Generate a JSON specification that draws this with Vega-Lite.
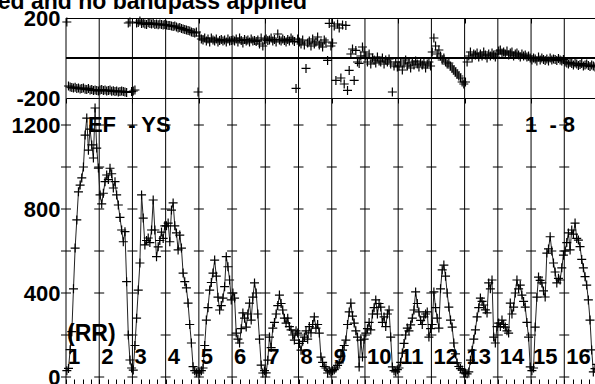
{
 "$schema": "https://vega.github.io/schema/vega-lite/v6.json",
 "width": 529, "height": 366,
 "autosize": {"type": "none"},
 "padding": {"left": 66, "top": 18, "right": 0, "bottom": 0},
 "background": "white",
 "view": {"stroke": null},
 "config": {"axis": {"labelFont": "Liberation Sans", "labelFontWeight": "bold", "labelFontSize": 22, "labelColor": "black", "domainColor": "black", "tickColor": "black", "grid": false}},
 "datasets": {
  "bnd": [{"b":0,"n":"1"},{"b":20,"n":"2"},{"b":40,"n":"3"},{"b":60,"n":"4"},{"b":80,"n":"5"},{"b":100,"n":"6"},{"b":120,"n":"7"},{"b":140,"n":"8"},{"b":160,"n":"9"},{"b":180,"n":"10"},{"b":200,"n":"11"},{"b":220,"n":"12"},{"b":240,"n":"13"},{"b":260,"n":"14"},{"b":280,"n":"15"},{"b":300,"n":"16"}],
  "grid": [
   {"lv":0,"bs":[0,20,40,60,80,100,120,140,160,180,200,220,240,260,280,300]},
   {"lv":200,"bs":[0,20,40,60,80,100,120,140,160,180,200,220,240,260,280,300]},
   {"lv":400,"bs":[0,20,40,60,80,100,120,140,160,180,200,220,240,260,280,300]},
   {"lv":600,"bs":[0,20,40,60,80,100,120,140,160,180,200,220,240,260,280,300]},
   {"lv":800,"bs":[0,20,40,60,80,100,120,140,160,180,200,220,240,260,280,300]},
   {"lv":1000,"bs":[0,20,40,60,80,100,120,140,160,180,200,220,240,260,280,300]},
   {"lv":1200,"bs":[0,20,40,60,80,100,120,140,160,180,200,220,240,260,280,300]}
  ],
  "d": [
{"x":0.5,"a":30,"p":180},{"x":1.5,"a":41,"p":-140},{"x":2.5,"a":130,"p":-145},{"x":3.5,"a":216,"p":-148},{"x":4.5,"a":420,"p":-150},{"x":5.5,"a":614,"p":-146},{"x":6.5,"a":748,"p":-152},{"x":7.5,"a":882,"p":-150},{"x":8.5,"a":914,"p":-155},{"x":9.5,"a":948,"p":-153},{"x":10.5,"a":1000,"p":-150},{"x":11.5,"a":1152,"p":-156},{"x":12.5,"a":1233,"p":-158},{"x":13.5,"a":1080,"p":-152},{"x":14.5,"a":1180,"p":-160},{"x":15.5,"a":1105,"p":-158},{"x":16.5,"a":1043,"p":-162},{"x":17.5,"a":1281,"p":-160},{"x":18.5,"a":1090,"p":-163},{"x":19.5,"a":995,"p":-165},
{"x":20.5,"a":867,"p":-160},{"x":21.5,"a":824,"p":-158},{"x":22.5,"a":875,"p":-162},{"x":23.5,"a":930,"p":-160},{"x":24.5,"a":962,"p":-165},{"x":25.5,"a":940,"p":-163},{"x":26.5,"a":994,"p":-160},{"x":27.5,"a":968,"p":-166},{"x":28.5,"a":900,"p":-164},{"x":29.5,"a":930,"p":-168},{"x":30.5,"a":867,"p":-165},{"x":31.5,"a":819,"p":-170},{"x":32.5,"a":760,"p":-167},{"x":33.5,"a":700,"p":-165},{"x":34.5,"a":644,"p":-168},{"x":35.5,"a":692,"p":-170},{"x":36.5,"a":454,"p":-172},{"x":37.5,"a":200,"p":175},{"x":38.5,"a":81,"p":180},{"x":39.5,"a":43,"p":-168},
{"x":40.5,"a":33,"p":-165},{"x":41.5,"a":150,"p":-160},{"x":42.5,"a":280,"p":175},{"x":43.5,"a":414,"p":178},{"x":44.5,"a":543,"p":185},{"x":45.5,"a":867,"p":172},{"x":46.5,"a":757,"p":175},{"x":47.5,"a":629,"p":170},{"x":48.5,"a":650,"p":168},{"x":49.5,"a":662,"p":176},{"x":50.5,"a":640,"p":172},{"x":51.5,"a":700,"p":170},{"x":52.5,"a":843,"p":174},{"x":53.5,"a":700,"p":168},{"x":54.5,"a":573,"p":170},{"x":55.5,"a":620,"p":166},{"x":56.5,"a":650,"p":170},{"x":57.5,"a":690,"p":168},{"x":58.5,"a":660,"p":165},{"x":59.5,"a":720,"p":167},
{"x":60.5,"a":720,"p":165},{"x":61.5,"a":733,"p":163},{"x":62.5,"a":644,"p":162},{"x":63.5,"a":795,"p":160},{"x":64.5,"a":829,"p":158},{"x":65.5,"a":720,"p":160},{"x":66.5,"a":686,"p":155},{"x":67.5,"a":605,"p":150},{"x":68.5,"a":676,"p":152},{"x":69.5,"a":614,"p":148},{"x":70.5,"a":495,"p":145},{"x":71.5,"a":454,"p":142},{"x":72.5,"a":424,"p":140},{"x":73.5,"a":352,"p":138},{"x":74.5,"a":250,"p":135},{"x":75.5,"a":162,"p":130},{"x":76.5,"a":49,"p":128},{"x":77.5,"a":30,"p":125},{"x":78.5,"a":20,"p":130},{"x":79.5,"a":25,"p":-170},
{"x":80.5,"a":19,"p":110},{"x":81.5,"a":30,"p":95},{"x":82.5,"a":43,"p":90},{"x":83.5,"a":150,"p":100},{"x":84.5,"a":271,"p":85},{"x":85.5,"a":330,"p":95},{"x":86.5,"a":414,"p":80},{"x":87.5,"a":450,"p":100},{"x":88.5,"a":495,"p":90},{"x":89.5,"a":557,"p":85},{"x":90.5,"a":480,"p":95},{"x":91.5,"a":380,"p":80},{"x":92.5,"a":319,"p":88},{"x":93.5,"a":340,"p":92},{"x":94.5,"a":376,"p":85},{"x":95.5,"a":430,"p":90},{"x":96.5,"a":573,"p":80},{"x":97.5,"a":525,"p":95},{"x":98.5,"a":462,"p":85},{"x":99.5,"a":367,"p":88},
{"x":100.5,"a":400,"p":90},{"x":101.5,"a":376,"p":85},{"x":102.5,"a":209,"p":95},{"x":103.5,"a":180,"p":80},{"x":104.5,"a":162,"p":100},{"x":105.5,"a":230,"p":88},{"x":106.5,"a":305,"p":75},{"x":107.5,"a":280,"p":92},{"x":108.5,"a":238,"p":85},{"x":109.5,"a":300,"p":90},{"x":110.5,"a":352,"p":80},{"x":111.5,"a":271,"p":95},{"x":112.5,"a":380,"p":85},{"x":113.5,"a":448,"p":88},{"x":114.5,"a":400,"p":82},{"x":115.5,"a":300,"p":90},{"x":116.5,"a":180,"p":70},{"x":117.5,"a":57,"p":100},{"x":118.5,"a":19,"p":60},{"x":119.5,"a":30,"p":90},
{"x":120.5,"a":20,"p":95},{"x":121.5,"a":80,"p":88},{"x":122.5,"a":190,"p":90},{"x":123.5,"a":140,"p":100},{"x":124.5,"a":233,"p":85},{"x":125.5,"a":260,"p":92},{"x":126.5,"a":300,"p":80},{"x":127.5,"a":340,"p":120},{"x":128.5,"a":390,"p":90},{"x":129.5,"a":350,"p":85},{"x":130.5,"a":319,"p":95},{"x":131.5,"a":280,"p":88},{"x":132.5,"a":257,"p":80},{"x":133.5,"a":280,"p":92},{"x":134.5,"a":240,"p":85},{"x":135.5,"a":224,"p":100},{"x":136.5,"a":200,"p":90},{"x":137.5,"a":176,"p":82},{"x":138.5,"a":220,"p":-152},{"x":139.5,"a":209,"p":95},
{"x":140.5,"a":160,"p":80},{"x":141.5,"a":128,"p":70},{"x":142.5,"a":170,"p":90},{"x":143.5,"a":190,"p":65},{"x":144.5,"a":220,"p":-52},{"x":145.5,"a":180,"p":75},{"x":146.5,"a":240,"p":85},{"x":147.5,"a":210,"p":60},{"x":148.5,"a":250,"p":95},{"x":149.5,"a":286,"p":70},{"x":150.5,"a":233,"p":80},{"x":151.5,"a":250,"p":105},{"x":152.5,"a":209,"p":65},{"x":153.5,"a":95,"p":75},{"x":154.5,"a":70,"p":55},{"x":155.5,"a":50,"p":90},{"x":156.5,"a":43,"p":80},{"x":157.5,"a":19,"p":-12},{"x":158.5,"a":30,"p":173},{"x":159.5,"a":24,"p":60},
{"x":160.5,"a":30,"p":75},{"x":161.5,"a":35,"p":160},{"x":162.5,"a":43,"p":-112},{"x":163.5,"a":55,"p":170},{"x":164.5,"a":67,"p":150},{"x":165.5,"a":100,"p":-100},{"x":166.5,"a":128,"p":165},{"x":167.5,"a":150,"p":-130},{"x":168.5,"a":176,"p":163},{"x":169.5,"a":250,"p":-162},{"x":170.5,"a":310,"p":-62},{"x":171.5,"a":352,"p":20},{"x":172.5,"a":290,"p":45},{"x":173.5,"a":257,"p":-112},{"x":174.5,"a":220,"p":38},{"x":175.5,"a":190,"p":-20},{"x":176.5,"a":48,"p":-27},{"x":177.5,"a":176,"p":10},{"x":178.5,"a":95,"p":55},{"x":179.5,"a":180,"p":30},
{"x":180.5,"a":209,"p":10},{"x":181.5,"a":230,"p":-20},{"x":182.5,"a":260,"p":20},{"x":183.5,"a":224,"p":-30},{"x":184.5,"a":300,"p":0},{"x":185.5,"a":330,"p":-10},{"x":186.5,"a":367,"p":-25},{"x":187.5,"a":300,"p":5},{"x":188.5,"a":350,"p":-15},{"x":189.5,"a":333,"p":-20},{"x":190.5,"a":260,"p":0},{"x":191.5,"a":286,"p":-30},{"x":192.5,"a":240,"p":-10},{"x":193.5,"a":300,"p":-20},{"x":194.5,"a":319,"p":-5},{"x":195.5,"a":190,"p":-30},{"x":196.5,"a":48,"p":-170},{"x":197.5,"a":30,"p":-40},{"x":198.5,"a":24,"p":-20},{"x":199.5,"a":35,"p":-45},
{"x":200.5,"a":43,"p":-40},{"x":201.5,"a":70,"p":-20},{"x":202.5,"a":114,"p":-60},{"x":203.5,"a":160,"p":-30},{"x":204.5,"a":200,"p":-10},{"x":205.5,"a":233,"p":-40},{"x":206.5,"a":220,"p":-25},{"x":207.5,"a":248,"p":-50},{"x":208.5,"a":280,"p":-20},{"x":209.5,"a":319,"p":-35},{"x":210.5,"a":405,"p":-15},{"x":211.5,"a":350,"p":-30},{"x":212.5,"a":310,"p":-45},{"x":213.5,"a":270,"p":-20},{"x":214.5,"a":250,"p":-35},{"x":215.5,"a":286,"p":-25},{"x":216.5,"a":300,"p":-50},{"x":217.5,"a":310,"p":-30},{"x":218.5,"a":190,"p":-20},{"x":219.5,"a":230,"p":-40},
{"x":220.5,"a":250,"p":30},{"x":221.5,"a":405,"p":100},{"x":222.5,"a":330,"p":60},{"x":223.5,"a":280,"p":20},{"x":224.5,"a":233,"p":40},{"x":225.5,"a":420,"p":10},{"x":226.5,"a":510,"p":-10},{"x":227.5,"a":533,"p":0},{"x":228.5,"a":480,"p":-20},{"x":229.5,"a":400,"p":-30},{"x":230.5,"a":333,"p":-25},{"x":231.5,"a":271,"p":-40},{"x":232.5,"a":238,"p":-50},{"x":233.5,"a":162,"p":-60},{"x":234.5,"a":110,"p":-70},{"x":235.5,"a":67,"p":-80},{"x":236.5,"a":50,"p":-90},{"x":237.5,"a":40,"p":-100},{"x":238.5,"a":33,"p":-120},{"x":239.5,"a":19,"p":-130},
{"x":240.5,"a":19,"p":-120},{"x":241.5,"a":15,"p":-20},{"x":242.5,"a":24,"p":10},{"x":243.5,"a":80,"p":30},{"x":244.5,"a":128,"p":0},{"x":245.5,"a":180,"p":20},{"x":246.5,"a":224,"p":15},{"x":247.5,"a":286,"p":25},{"x":248.5,"a":330,"p":5},{"x":249.5,"a":376,"p":20},{"x":250.5,"a":360,"p":10},{"x":251.5,"a":343,"p":30},{"x":252.5,"a":320,"p":15},{"x":253.5,"a":305,"p":0},{"x":254.5,"a":448,"p":20},{"x":255.5,"a":420,"p":10},{"x":256.5,"a":462,"p":25},{"x":257.5,"a":190,"p":15},{"x":258.5,"a":162,"p":5},{"x":259.5,"a":240,"p":20},
{"x":260.5,"a":257,"p":35},{"x":261.5,"a":240,"p":40},{"x":262.5,"a":271,"p":25},{"x":263.5,"a":250,"p":30},{"x":264.5,"a":238,"p":20},{"x":265.5,"a":220,"p":35},{"x":266.5,"a":209,"p":15},{"x":267.5,"a":352,"p":25},{"x":268.5,"a":300,"p":30},{"x":269.5,"a":333,"p":10},{"x":270.5,"a":400,"p":20},{"x":271.5,"a":462,"p":25},{"x":272.5,"a":420,"p":15},{"x":273.5,"a":438,"p":5},{"x":274.5,"a":390,"p":20},{"x":275.5,"a":360,"p":10},{"x":276.5,"a":333,"p":15},{"x":277.5,"a":260,"p":5},{"x":278.5,"a":190,"p":10},{"x":279.5,"a":48,"p":0},
{"x":280.5,"a":30,"p":-10},{"x":281.5,"a":43,"p":0},{"x":282.5,"a":238,"p":-5},{"x":283.5,"a":380,"p":-15},{"x":284.5,"a":476,"p":5},{"x":285.5,"a":460,"p":-10},{"x":286.5,"a":448,"p":0},{"x":287.5,"a":410,"p":-8},{"x":288.5,"a":381,"p":-12},{"x":289.5,"a":590,"p":-5},{"x":290.5,"a":610,"p":-15},{"x":291.5,"a":668,"p":0},{"x":292.5,"a":600,"p":-10},{"x":293.5,"a":543,"p":-5},{"x":294.5,"a":500,"p":-8},{"x":295.5,"a":448,"p":-12},{"x":296.5,"a":470,"p":-3},{"x":297.5,"a":462,"p":-10},{"x":298.5,"a":520,"p":-15},{"x":299.5,"a":580,"p":-8},
{"x":300.5,"a":600,"p":-20},{"x":301.5,"a":640,"p":-25},{"x":302.5,"a":686,"p":-30},{"x":303.5,"a":605,"p":-22},{"x":304.5,"a":700,"p":-28},{"x":305.5,"a":680,"p":-35},{"x":306.5,"a":733,"p":-25},{"x":307.5,"a":660,"p":-30},{"x":308.5,"a":652,"p":-38},{"x":309.5,"a":621,"p":-32},{"x":310.5,"a":560,"p":-28},{"x":311.5,"a":520,"p":-40},{"x":312.5,"a":478,"p":-35},{"x":313.5,"a":438,"p":-30},{"x":314.5,"a":367,"p":-38},{"x":315.5,"a":271,"p":-42},{"x":316.5,"a":129,"p":-35},{"x":317.5,"a":24,"p":-40},{"x":318.5,"a":40,"p":-45},{"x":319.5,"a":60,"p":-38}
  ]
 },
 "resolve": {"scale": {"x": "independent", "y": "independent"}},
 "layer": [
  {
   "data": {"name": "bnd"},
   "mark": {"type": "rule", "color": "black", "strokeWidth": 1},
   "encoding": {
    "x": {"field": "b", "type": "quantitative", "scale": {"domain": [0, 318.5], "nice": false, "zero": false},
          "axis": {"orient": "bottom", "values": [0,5,10,15,20,25,30,35,40,45,50,55,60,65,70,75,80,85,90,95,100,105,110,115,120,125,130,135,140,145,150,155,160,165,170,175,180,185,190,195,200,205,210,215,220,225,230,235,240,245,250,255,260,265,270,275,280,285,290,295,300,305,310,315], "tickSize": -5, "labels": false, "domain": false, "title": null}}
   }
  },
  {
   "data": {"name": "d"},
   "layer": [
    {
     "mark": {"type": "point", "shape": "M-1,0H1M0,-1V1", "size": 81, "filled": false, "color": "black", "strokeWidth": 1.2, "opacity": 1},
     "encoding": {
      "x": {"field": "x", "type": "quantitative", "scale": {"domain": [0, 318.5], "nice": false, "zero": false},
            "axis": {"orient": "top", "values": [0,5,10,15,20,25,30,35,40,45,50,55,60,65,70,75,80,85,90,95,100,105,110,115,120,125,130,135,140,145,150,155,160,165,170,175,180,185,190,195,200,205,210,215,220,225,230,235,240,245,250,255,260,265,270,275,280,285,290,295,300,305,310,315], "tickSize": -5, "labels": false, "domain": true, "title": null}},
      "y": {"field": "p", "type": "quantitative", "scale": {"domain": [-200, 200], "range": [80, 0], "nice": false, "zero": false},
            "axis": {"orient": "left", "values": [-200, 200], "labelExpr": "datum.value + ''", "ticks": false, "domain": false, "labelPadding": 6, "labelFlush": false, "labelOverlap": false, "title": null}}
     }
    },
    {
     "mark": {"type": "rule", "color": "black", "strokeWidth": 1},
     "encoding": {"y": {"datum": 0}}
    },
    {
     "data": {"values": [{}]},
     "mark": {"type": "text", "text": "Data flagged, calibrated and no bandpass applied", "font": "Liberation Sans", "fontSize": 23, "fontWeight": "bold", "align": "right", "baseline": "alphabetic", "color": "black"},
     "encoding": {"x": {"datum": 145.1}, "y": {"datum": 245}}
    }
   ]
  },
  {
   "layer": [
    {
     "data": {"name": "grid"},
     "transform": [{"flatten": ["bs"], "as": ["b"]}],
     "mark": {"type": "point", "shape": "M-1,0H1", "size": 100, "filled": false, "color": "black", "strokeWidth": 1, "opacity": 1},
     "encoding": {
      "x": {"field": "b", "type": "quantitative", "scale": {"domain": [0, 318.5], "nice": false, "zero": false},
            "axis": {"orient": "top", "offset": -80, "values": [0,5,10,15,20,25,30,35,40,45,50,55,60,65,70,75,80,85,90,95,100,105,110,115,120,125,130,135,140,145,150,155,160,165,170,175,180,185,190,195,200,205,210,215,220,225,230,235,240,245,250,255,260,265,270,275,280,285,290,295,300,305,310,315], "tickSize": -5, "labels": false, "domain": true, "title": null}},
      "y": {"field": "lv", "type": "quantitative", "scale": {"domain": [-33.3, 1328.6], "range": [366, 80], "nice": false, "zero": false},
            "axis": {"orient": "left", "values": [0, 400, 800, 1200], "labelExpr": "datum.value + ''", "ticks": false, "domain": false, "labelPadding": 6, "labelFlush": false, "labelOverlap": false, "title": null}}
     }
    },
    {
     "data": {"name": "d"},
     "mark": {"type": "line", "color": "#222222", "strokeWidth": 1},
     "encoding": {
      "x": {"field": "x", "type": "quantitative"},
      "y": {"field": "a", "type": "quantitative"}
     }
    },
    {
     "data": {"name": "d"},
     "mark": {"type": "point", "shape": "M-1,0H1M0,-1V1", "size": 81, "filled": false, "color": "black", "strokeWidth": 1.2, "opacity": 1},
     "encoding": {
      "x": {"field": "x", "type": "quantitative"},
      "y": {"field": "a", "type": "quantitative"}
     }
    },
    {
     "data": {"name": "bnd"},
     "mark": {"type": "text", "font": "Liberation Sans", "fontSize": 22, "fontWeight": "bold", "align": "left", "baseline": "alphabetic", "dx": 2, "color": "black"},
     "encoding": {
      "x": {"field": "b", "type": "quantitative"},
      "y": {"datum": 62},
      "text": {"field": "n"}
     }
    },
    {
     "data": {"values": [{}]},
     "mark": {"type": "text", "text": "(RR)", "font": "Liberation Sans", "fontSize": 23, "fontWeight": "bold", "align": "left", "baseline": "alphabetic", "dx": 1, "color": "black"},
     "encoding": {"x": {"datum": 0}, "y": {"datum": 173}}
    },
    {
     "data": {"values": [{}]},
     "mark": {"type": "text", "text": "EF\u00a0 - YS", "font": "Liberation Sans", "fontSize": 22, "fontWeight": "bold", "align": "left", "baseline": "alphabetic", "color": "black"},
     "encoding": {"x": {"datum": 13.2}, "y": {"datum": 1168}}
    },
    {
     "data": {"values": [{}]},
     "mark": {"type": "text", "text": "1\u00a0 - 8", "font": "Liberation Sans", "fontSize": 22, "fontWeight": "bold", "align": "right", "baseline": "alphabetic", "color": "black"},
     "encoding": {"x": {"datum": 306.5}, "y": {"datum": 1168}}
    }
   ]
  }
 ]
}
